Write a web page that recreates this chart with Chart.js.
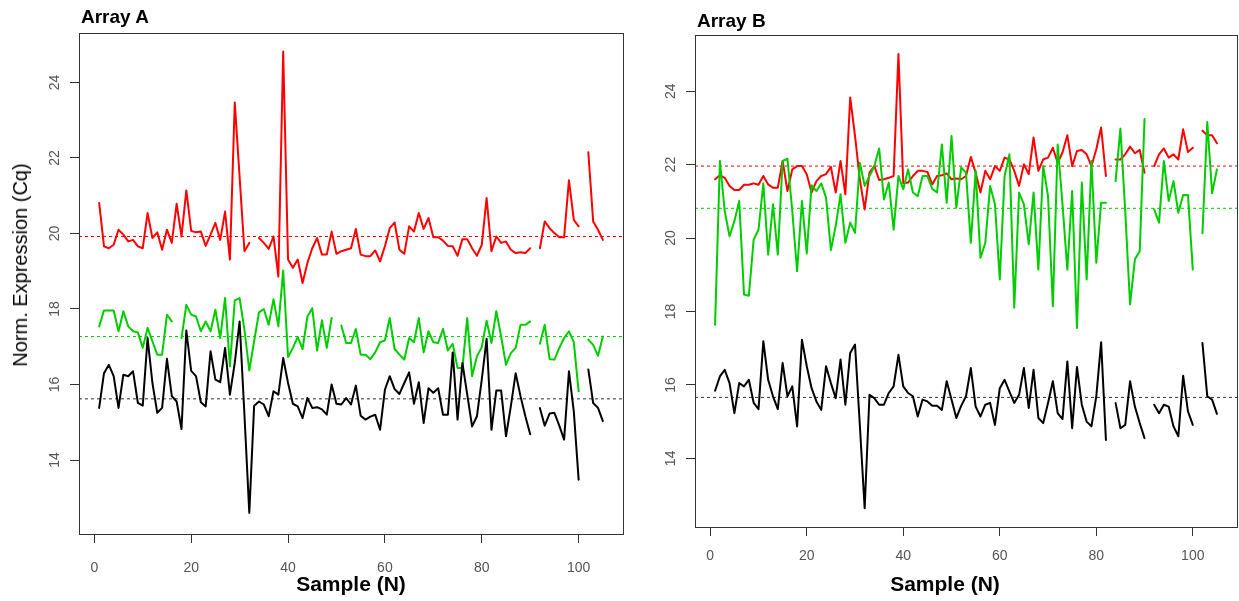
<!DOCTYPE html>
<html><head><meta charset="utf-8">
<script src="https://cdn.jsdelivr.net/npm/chart.js@4.4.1/dist/chart.umd.min.js"></script>
<style>
body{margin:0;width:1239px;height:601px;background:#fff;position:relative;overflow:hidden;font-family:"Liberation Sans",Arial,sans-serif}
canvas{position:absolute;top:0}
.t{position:absolute;white-space:nowrap;color:#000;line-height:1}
.c{transform:translate(-50%,-50%)}
</style></head><body>
<canvas id="cA" width="640" height="601" style="left:0"></canvas>
<canvas id="cB" width="599" height="601" style="left:640px"></canvas>
<div class="t" style="left:81px;top:7px;font-weight:bold;font-size:19px">Array A</div>
<div class="t" style="left:697px;top:11px;font-weight:bold;font-size:19px">Array B</div>
<div class="t c" style="left:351px;top:583px;font-weight:bold;font-size:21px">Sample (N)</div>
<div class="t c" style="left:945px;top:583px;font-weight:bold;font-size:21px">Sample (N)</div>
<div class="t" style="left:20px;top:265px;font-size:20px;transform:translate(-50%,-50%) rotate(-90deg)">Norm. Expression (Cq)</div>
<script>
const samples = [1,2,3,4,5,6,7,8,9,10,11,12,13,14,15,16,17,18,19,20,21,22,23,24,25,26,27,28,29,30,31,32,33,34,35,36,37,38,39,40,41,42,43,44,45,46,47,48,49,50,51,52,53,54,55,56,57,58,59,60,61,62,63,64,65,66,67,68,69,70,71,72,73,74,75,76,77,78,79,80,81,82,83,84,85,86,87,88,89,90,91,92,93,94,95,96,97,98,99,100,101,102,103,104,105];
const xTicks = [0,20,40,60,80,100];
const yTicks = [14,16,18,20,22,24];

// Array A
const redA = [20.81,19.66,19.61,19.70,20.10,19.97,19.79,19.83,19.66,19.61,20.54,19.88,20.03,19.57,20.10,19.75,20.79,19.92,21.14,20.07,20.03,20.05,19.67,19.97,20.28,19.83,20.58,19.31,23.47,21.5,19.53,19.75,null,19.88,19.75,19.59,19.92,18.86,24.82,19.31,19.09,19.31,18.69,19.22,19.61,19.88,19.44,19.44,20.05,19.46,19.53,19.57,19.61,20.12,19.44,19.40,19.40,19.55,19.26,19.66,20.14,20.29,19.57,19.46,20.19,20.05,20.54,20.12,20.41,19.90,19.90,19.81,19.67,19.66,19.41,19.85,19.85,19.61,19.41,19.70,20.94,19.53,19.92,19.75,19.79,19.57,19.48,19.50,19.48,19.61,null,19.61,20.32,20.14,20.01,19.90,19.90,21.41,20.36,20.19,null,22.15,20.32,20.10,19.83];
const greenA = [17.54,17.96,17.96,17.96,17.41,17.94,17.54,17.41,17.38,16.97,17.50,17.14,16.79,16.79,17.85,17.67,null,17.23,18.11,17.85,17.80,17.41,17.67,17.41,17.98,17.23,18.29,16.48,18.23,18.29,17.45,16.37,17.15,17.91,18.00,17.58,18.26,17.54,19.02,16.73,16.97,17.26,16.94,17.80,18.02,16.90,17.70,16.97,17.76,null,17.56,17.10,17.10,17.47,16.79,16.79,16.67,16.85,17.12,17.17,17.76,16.94,16.79,16.66,17.23,17.12,17.76,16.85,17.41,17.12,17.10,17.47,16.90,17.08,16.44,16.44,17.76,16.22,16.75,16.99,17.69,17.10,17.94,17.27,16.52,16.83,16.97,17.58,17.58,17.67,null,17.08,17.58,16.67,16.66,16.97,17.23,17.41,17.12,15.82,null,17.19,17.05,16.76,17.27];
const blackA = [15.38,16.30,16.52,16.22,15.38,16.26,16.22,16.35,15.51,15.44,17.23,16.04,15.25,15.38,16.68,15.69,15.55,14.82,17.43,16.36,16.22,15.53,15.42,16.88,16.13,16.06,16.97,15.73,16.57,17.67,15.2,12.6,15.44,15.55,15.47,15.16,15.82,15.73,16.70,16.04,15.49,15.42,15.11,15.64,15.38,15.40,15.34,15.20,16.00,15.49,15.47,15.64,15.47,15.97,15.17,15.07,15.15,15.20,14.80,15.86,16.22,15.88,15.75,16.04,16.32,15.49,16.06,14.98,15.90,15.78,15.90,15.20,15.20,16.85,15.07,16.57,15.73,14.89,15.16,16.13,17.21,14.80,15.84,15.84,14.63,15.42,16.30,15.69,15.16,14.68,null,15.38,14.91,15.23,15.25,14.91,14.54,16.35,15.29,13.48,null,16.40,15.51,15.38,15.03];
const meansA = [19.92, 17.27, 15.62];

// Array B
const redB = [21.60,21.71,21.64,21.42,21.31,21.31,21.45,21.45,21.49,21.45,21.69,21.46,21.37,21.37,22.10,21.28,21.87,21.96,21.96,21.74,21.24,21.55,21.69,21.74,21.94,21.24,22.10,21.19,23.83,22.78,21.6,20.78,21.78,21.96,21.58,21.60,21.64,21.69,25.01,21.49,21.51,21.69,21.83,21.83,21.80,21.46,21.69,21.71,21.76,21.60,21.62,21.60,21.69,22.21,21.78,21.24,21.83,21.60,21.96,21.83,22.19,22.14,21.83,21.42,22.01,21.74,22.74,21.83,22.14,22.19,22.46,22.05,22.33,22.80,21.96,22.37,22.40,22.28,21.96,22.42,23.01,21.69,null,22.14,22.14,22.28,22.49,22.31,22.40,21.78,null,21.96,22.28,22.44,22.19,22.28,22.14,22.96,22.34,22.46,null,22.92,22.80,22.80,22.58];
const greenB = [17.64,22.10,20.73,20.05,20.46,21.01,18.46,18.43,19.96,20.23,21.49,19.55,20.92,19.55,22.10,22.16,20.73,19.10,21.01,19.58,21.44,21.28,21.49,21.10,19.67,20.33,21.19,19.87,20.42,20.14,22.05,21.42,21.69,21.96,22.44,21.05,21.51,20.23,21.69,21.33,21.87,21.24,21.14,21.69,21.69,21.34,21.24,22.55,20.96,22.78,20.83,21.92,21.78,19.87,21.83,19.46,19.87,21.42,20.92,18.87,21.69,22.28,18.10,21.24,20.92,19.83,21.24,19.14,21.96,21.14,18.14,22.55,20.92,19.14,21.28,17.55,21.51,18.87,22.10,19.33,20.96,20.96,null,21.55,22.98,20.73,18.19,19.42,19.64,23.24,null,20.78,20.42,22.10,21.01,21.55,20.69,21.17,21.17,19.14,null,20.13,23.16,21.22,21.87];
const blackB = [15.84,16.23,16.41,16.05,15.23,16.05,15.96,16.14,15.51,15.34,17.19,16.14,15.69,15.34,16.60,15.69,15.96,14.87,17.23,16.51,15.91,15.55,15.32,16.51,16.05,15.64,16.69,15.46,16.87,17.10,14.9,12.64,15.73,15.64,15.46,15.46,15.78,15.96,16.82,15.96,15.78,15.69,15.14,15.60,15.55,15.43,15.43,15.32,16.10,15.60,15.10,15.43,15.69,16.46,15.41,15.14,15.46,15.51,14.91,15.91,16.14,15.82,15.51,15.73,16.46,15.37,16.41,15.10,14.96,15.51,16.10,15.23,15.07,16.64,14.82,16.49,15.46,15.00,14.87,15.69,17.16,14.50,null,15.51,14.82,14.91,16.10,15.41,14.96,14.55,null,15.46,15.23,15.46,15.41,14.87,14.60,16.25,15.28,14.91,null,17.14,15.69,15.60,15.21];
const meansB = [21.96, 20.81, 15.66];

const xRange = [-3.16, 109.16];
const yRangeA = [12.04, 25.31];
const yRangeB = [12.13, 25.53];

const seriesColors = ['#FF0000', '#00CD00', '#000000'];
const meanColors = ['#FF0000', '#00CD00', '#333333'];
const FONT = '"Liberation Sans", Arial, sans-serif';

const framePlugin = {
  id: 'frame',
  afterDraw(chart) {
    const a = chart.chartArea, ctx = chart.ctx;
    ctx.save();
    ctx.strokeStyle = '#333';
    ctx.lineWidth = 1;
    ctx.strokeRect(Math.round(a.left) + 0.5, Math.round(a.top) + 0.5, Math.round(a.right - a.left), Math.round(a.bottom - a.top));
    ctx.restore();
  }
};

function pts(arr) { return samples.map((s, i) => ({x: s, y: arr[i]})); }

function makeChart(id, series, means, yRange, geom) {
  const datasets = [];
  // mean lines first in list -> drawn last? Chart.js draws index 0 on top; put series first
  const order = [2, 1, 0]; // black, green, red: green over red
  series.forEach((arr, k) => {
    datasets.push({
      data: pts(arr), borderColor: seriesColors[k], borderWidth: 2,
      pointRadius: 0, tension: 0, spanGaps: false, fill: false,
      borderJoinStyle: 'round', borderCapStyle: 'round', order: order[k]
    });
  });
  means.forEach((m, k) => {
    datasets.push({
      data: [{x: xRange[0], y: m}, {x: xRange[1], y: m}],
      borderColor: meanColors[k], borderWidth: 1, borderDash: [3, 3],
      pointRadius: 0, fill: false, order: 5
    });
  });
  return new Chart(document.getElementById(id), {
    type: 'line',
    data: {datasets},
    plugins: [framePlugin],
    options: {
      responsive: false, animation: false, devicePixelRatio: 1,
      layout: {padding: {left: 0, top: geom.top, right: geom.right, bottom: 0}},
      plugins: {legend: {display: false}, tooltip: {enabled: false}, title: {display: false}},
      scales: {
        x: {
          type: 'linear', min: xRange[0], max: xRange[1],
          afterFit: s => { s.height = geom.xh; },
          afterBuildTicks: s => { s.ticks = xTicks.map(v => ({value: v})); },
          grid: {drawOnChartArea: false, drawTicks: true, tickLength: 9, color: '#333'},
          border: {display: true, color: '#333'},
          ticks: {color: '#555', font: {size: 14, family: FONT}, padding: geom.xpad, maxRotation: 0, autoSkip: false}
        },
        y: {
          type: 'linear', min: yRange[0], max: yRange[1],
          afterFit: s => { s.width = geom.yw; },
          afterBuildTicks: s => { s.ticks = yTicks.map(v => ({value: v})); },
          grid: {drawOnChartArea: false, drawTicks: true, tickLength: 9, color: '#333'},
          border: {display: true, color: '#333'},
          ticks: {color: '#555', font: {size: 14, family: FONT}, padding: 7, minRotation: 90, maxRotation: 90, crossAlign: 'center', autoSkip: false}
        }
      }
    }
  });
}

makeChart('cA', [redA, greenA, blackA], meansA, yRangeA, {top: 33, right: 17, xh: 67, yw: 79, xpad: 17});
makeChart('cB', [redB, greenB, blackB], meansB, yRangeB, {top: 35, right: 2, xh: 74, yw: 55, xpad: 12});
</script>
</body></html>
